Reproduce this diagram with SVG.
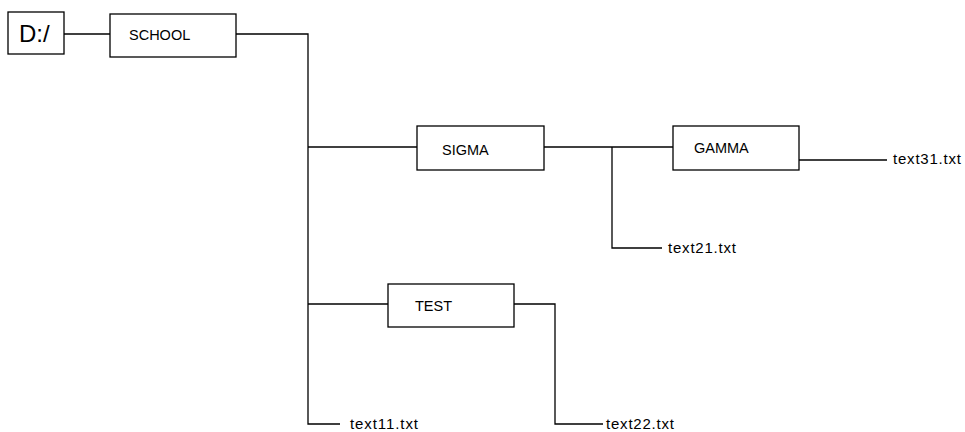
<svg xmlns="http://www.w3.org/2000/svg" width="965" height="432" viewBox="0 0 965 432">
<style>
.box{fill:#fff;stroke:#000;stroke-width:1.3}
.ln{fill:none;stroke:#000;stroke-width:1.3}
.t{font-family:"Liberation Sans",Arial,sans-serif;font-size:14.5px;fill:#000}
.f{font-size:15px}
</style>
<rect width="965" height="432" fill="#fff"/>
<g id="connectors">
<path class="ln" d="M64 34H110"/>
<path class="ln" d="M236 34H308V424H340"/>
<path class="ln" d="M308 147H417"/>
<path class="ln" d="M308 304H388"/>
<path class="ln" d="M544 147H673"/>
<path class="ln" d="M612 147V248H662"/>
<path class="ln" d="M799 160H887"/>
<path class="ln" d="M514 304H555V424H603"/>
</g>
<g id="n-d"><rect class="box" x="8" y="12" width="56" height="42"/><text class="t" x="19" y="42" style="font-size:24px">D:/</text></g>
<g id="n-school"><rect class="box" x="110" y="14" width="126" height="43"/><text class="t" x="129" y="40">SCHOOL</text></g>
<g id="n-sigma"><rect class="box" x="417" y="126" width="127" height="44"/><text class="t" x="442" y="155">SIGMA</text></g>
<g id="n-gamma"><rect class="box" x="673" y="126" width="126" height="44"/><text class="t" x="694" y="153">GAMMA</text></g>
<g id="n-test"><rect class="box" x="388" y="284" width="126" height="43"/><text class="t" x="415" y="311">TEST</text></g>
<g id="n-text31"><text class="t f" x="893" y="164" textLength="68" lengthAdjust="spacing">text31.txt</text></g>
<g id="n-text21"><text class="t f" x="668" y="253" textLength="68" lengthAdjust="spacing">text21.txt</text></g>
<g id="n-text11"><text class="t f" x="350" y="429" textLength="68" lengthAdjust="spacing">text11.txt</text></g>
<g id="n-text22"><text class="t f" x="606" y="429" textLength="68" lengthAdjust="spacing">text22.txt</text></g>
</svg>
